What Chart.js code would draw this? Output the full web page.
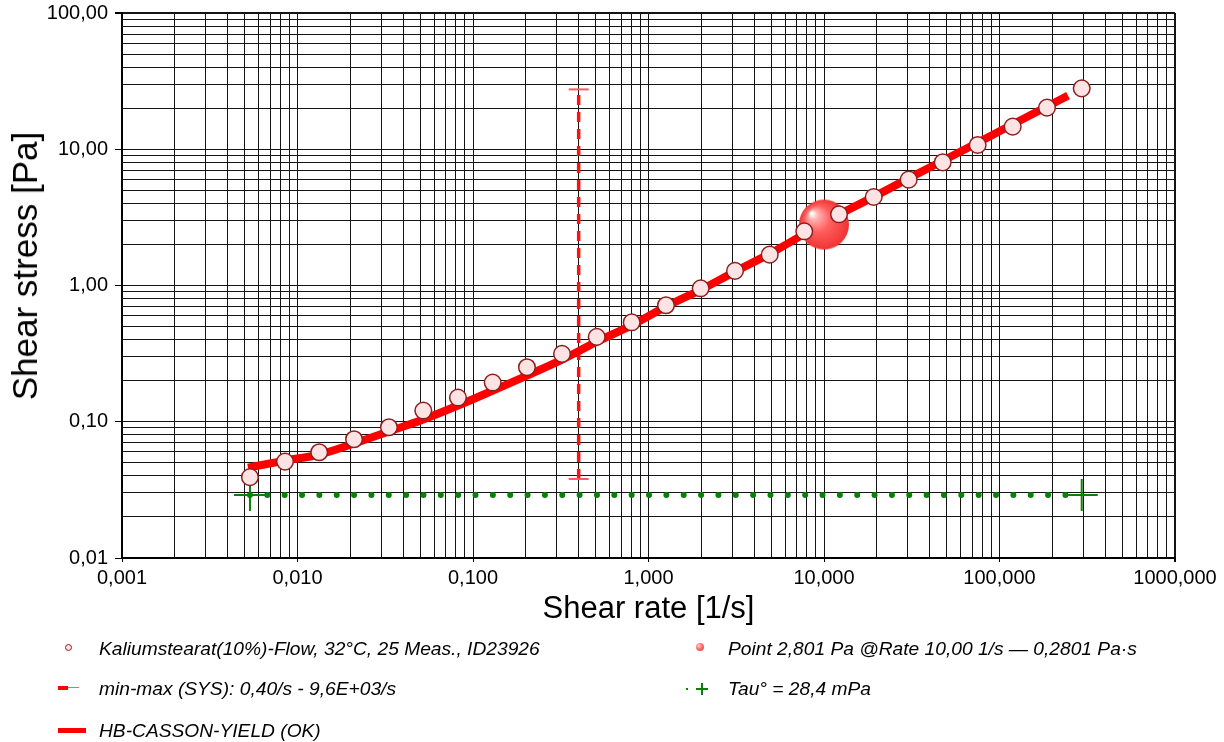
<!DOCTYPE html>
<html>
<head>
<meta charset="utf-8">
<script src="https://cdn.jsdelivr.net/npm/chart.js@4.4.1/dist/chart.umd.min.js"></script>
<style>
body { margin: 0; background: #fff; }
#wrap { position: relative; width: 1224px; height: 742px; }
#chart { position: absolute; left: 0; top: 0; }
.leg { position: absolute; font-family: "Liberation Sans", Arial, sans-serif; font-style: italic; font-size: 19.2px; line-height: 24px; color: #000; white-space: nowrap; }
.sym { position: absolute; }
#ytitle { position: absolute; left: 25px; top: 266px; transform: translate(-50%, -50%) rotate(-90deg); font-family: "Liberation Sans", Arial, sans-serif; font-size: 35px; line-height: 40px; color: #000; white-space: nowrap; }
</style>
</head>
<body>
<div id="wrap">
  <canvas id="chart" width="1224" height="742"></canvas>
  <div id="ytitle">Shear stress [Pa]</div>

  <div class="sym" style="left:65px;top:644px;width:5px;height:5px;border:1.5px solid #8f1f1f;border-radius:50%;background:#fde3e3"></div>
  <div class="leg" style="left:99px;top:637px">Kaliumstearat(10%)-Flow, 32°C, 25 Meas., ID23926</div>

  <div class="sym" style="left:58px;top:686px;width:10px;height:4px;background:#ff0000"></div>
  <div class="sym" style="left:68px;top:687px;width:11px;height:1px;background:#ff6060"></div>
  <div class="leg" style="left:99px;top:677px">min-max (SYS): 0,40/s - 9,6E+03/s</div>

  <div class="sym" style="left:58px;top:728px;width:28px;height:5px;background:#ff0000"></div>
  <div class="leg" style="left:99px;top:719px">HB-CASSON-YIELD (OK)</div>

  <div class="sym" style="left:696px;top:643px;width:8px;height:8px;border-radius:50%;background:radial-gradient(circle at 35% 35%, #ffd0d0 0%, #ff6a6a 45%, #f03a3a 100%)"></div>
  <div class="leg" style="left:728px;top:637px">Point 2,801 Pa @Rate 10,00 1/s — 0,2801 Pa·s</div>

  <div class="sym" style="left:686px;top:688px;width:2px;height:2px;background:#0a800a"></div>
  <div class="sym" style="left:696px;top:688px;width:12px;height:2px;background:#0a800a"></div>
  <div class="sym" style="left:701px;top:683px;width:2px;height:12px;background:#0a800a"></div>
  <div class="leg" style="left:728px;top:677px">Tau° = 28,4 mPa</div>
</div>
<script>
// measured points (shear rate 1/s, shear stress Pa)
const shearRate = [0.00536, 0.00849, 0.0133, 0.0210, 0.0332, 0.0521, 0.0821, 0.1295, 0.203, 0.3215,
    0.507, 0.802, 1.258, 1.983, 3.111, 4.905, 7.72, 12.18, 19.20, 30.38, 47.47, 75.1, 118.9, 186.5, 294.1]
const shearStress = [0.0392, 0.0510, 0.0597, 0.0744, 0.0911, 0.1208, 0.1505, 0.194, 0.2511, 0.3148,
    0.4197, 0.537, 0.716, 0.954, 1.280, 1.685, 2.499, 3.330, 4.467, 5.984, 8.014, 10.75, 14.65, 20.20, 27.98]

// HB-Casson-Yield fit curve
const fitRate = [0.00522, 0.00849, 0.0133, 0.0210, 0.0332, 0.0520, 0.0821, 0.1297, 0.203, 0.3215,
    0.509, 0.795, 1.258, 1.991, 3.111, 4.92, 7.79, 12.18, 19.3, 30.1, 47.6, 75.4, 117.8, 186.5, 245.7]
const fitStress = [0.0461, 0.0519, 0.0574, 0.0692, 0.0848, 0.1038, 0.1315, 0.1694, 0.2183, 0.2859,
    0.3877, 0.508, 0.700, 0.933, 1.265, 1.714, 2.403, 3.313, 4.488, 6.085, 8.25, 11.18, 15.15, 20.54, 24.74]

const pointRate = [10]
const pointStress = [2.801]

const rangeRate = [0.40, 0.40]
const rangeStress = [0.038, 27.5]

const tauRate = [0.00536, 294.1]
const tauStress = [0.029, 0.029]

const xDecades = [0.001, 0.01, 0.1, 1, 10, 100, 1000]
const xTickLabels = ['0,001', '0,010', '0,100', '1,000', '10,000', '100,000', '1000,000']
const yDecades = [0.01, 0.1, 1, 10, 100]
const yTickLabels = ['0,01', '0,10', '1,00', '10,00', '100,00']

const xy = (xs, ys) => xs.map((x, i) => ({ x: x, y: ys[i] }))

// decade ticks plus 2..9 minor ticks
function logTicks(decades) {
    const ticks = []
    decades.forEach((d, i) => {
        ticks.push({ value: d, major: true })
        if (i < decades.length - 1) {
            for (let m = 2; m <= 9; m++) ticks.push({ value: d * m, major: false })
        }
    })
    return ticks
}

function decadeLabel(v, decades, labels) {
    const i = decades.findIndex(d => Math.abs(v / d - 1) < 1e-6)
    return i >= 0 ? labels[i] : ''
}

// shaded ball for the marked point
function makeBall(r) {
    const c = document.createElement('canvas')
    c.width = c.height = r * 2 + 2
    const g = c.getContext('2d')
    const cx = r + 1, cy = r + 1
    const grad = g.createRadialGradient(cx - r * 0.5, cy - r * 0.45, 1, cx, cy, r)
    grad.addColorStop(0, '#ffffff')
    grad.addColorStop(0.16, '#ffb0b0')
    grad.addColorStop(0.5, '#ff5e5e')
    grad.addColorStop(1, '#f03434')
    g.fillStyle = grad
    g.beginPath()
    g.arc(cx, cy, r, 0, Math.PI * 2)
    g.fill()
    return c
}

// the y labels push the plot down; keep the top edge where the original has it
const pinTop = {
    id: 'pinTop',
    afterLayout(chart) {
        const a = chart.chartArea, y = chart.scales.y
        a.top = 13
        a.height = a.bottom - a.top
        y.top = 13
        y.height = y.bottom - y.top
        y.configure()
    }
}

const tickFont = { family: 'Liberation Sans, Arial, sans-serif', size: 20 }
const titleFont = { family: 'Liberation Sans, Arial, sans-serif', size: 31 }

new Chart(document.getElementById('chart').getContext('2d'), {
    type: 'scatter',
    plugins: [pinTop],
    data: {
        datasets: [
            {
                label: 'Kaliumstearat(10%)-Flow',
                data: xy(shearRate, shearStress),
                showLine: false,
                pointRadius: 8.3,
                pointBackgroundColor: '#fde3e3',
                pointBorderColor: '#8f1f1f',
                pointBorderWidth: 1.5,
                order: 0
            },
            {
                label: 'Point',
                data: xy(pointRate, pointStress),
                showLine: false,
                pointStyle: makeBall(25),
                pointRadius: 25,
                order: 1
            },
            {
                label: 'HB-CASSON-YIELD (OK)',
                data: xy(fitRate, fitStress),
                showLine: true,
                borderColor: '#ff0000',
                borderWidth: 8,
                pointRadius: 0,
                cubicInterpolationMode: 'monotone',
                order: 2
            },
            {
                label: 'min-max (SYS)',
                data: xy(rangeRate, rangeStress),
                showLine: true,
                borderColor: '#ff1010',
                borderWidth: 3.5,
                borderDash: [10, 7],
                pointStyle: 'line',
                pointRadius: 10,
                pointBorderWidth: 2,
                pointBorderColor: '#ff5a5a',
                order: 3
            },
            {
                label: 'Tau°',
                data: xy(tauRate, tauStress),
                showLine: true,
                borderColor: '#0a800a',
                borderWidth: 6,
                borderDash: [0, 17.35],
                borderCapStyle: 'round',
                pointStyle: 'cross',
                pointRadius: 16,
                pointBorderWidth: 2,
                pointBorderColor: '#0a800a',
                order: 4
            }
        ]
    },
    options: {
        responsive: false,
        animation: false,
        devicePixelRatio: 1,
        layout: { padding: { left: 0, top: 13, right: 49, bottom: 114 } },
        plugins: {
            legend: { display: false },
            tooltip: { enabled: false }
        },
        scales: {
            x: {
                type: 'logarithmic',
                min: 0.001,
                max: 1000,
                afterBuildTicks: s => { s.ticks = logTicks(xDecades) },
                afterFit: s => { s.height = 70 },
                ticks: {
                    autoSkip: false,
                    maxRotation: 0,
                    padding: 4,
                    color: '#000',
                    font: tickFont,
                    callback: v => decadeLabel(v, xDecades, xTickLabels)
                },
                grid: {
                    color: '#141414',
                    lineWidth: c => (c.tick && c.tick.value === 1000) ? 2 : 1,
                    tickColor: c => (c.tick && c.tick.major) ? '#000' : 'rgba(0,0,0,0)',
                    tickLength: 4
                },
                border: { color: '#000', width: 2 },
                title: { display: true, text: 'Shear rate [1/s]', color: '#000', font: titleFont, padding: 0 }
            },
            y: {
                type: 'logarithmic',
                min: 0.01,
                max: 100,
                afterBuildTicks: s => { s.ticks = logTicks(yDecades) },
                afterFit: s => { s.width = 122 },
                ticks: {
                    autoSkip: false,
                    padding: 7,
                    color: '#000',
                    font: tickFont,
                    callback: v => decadeLabel(v, yDecades, yTickLabels)
                },
                grid: {
                    color: '#141414',
                    lineWidth: c => (c.tick && c.tick.value === 100) ? 2 : 1,
                    tickColor: c => (c.tick && c.tick.major) ? '#000' : 'rgba(0,0,0,0)',
                    tickLength: 7
                },
                border: { color: '#000', width: 2 },
                title: { display: false }
            }
        }
    }
});
</script>
</body>
</html>
